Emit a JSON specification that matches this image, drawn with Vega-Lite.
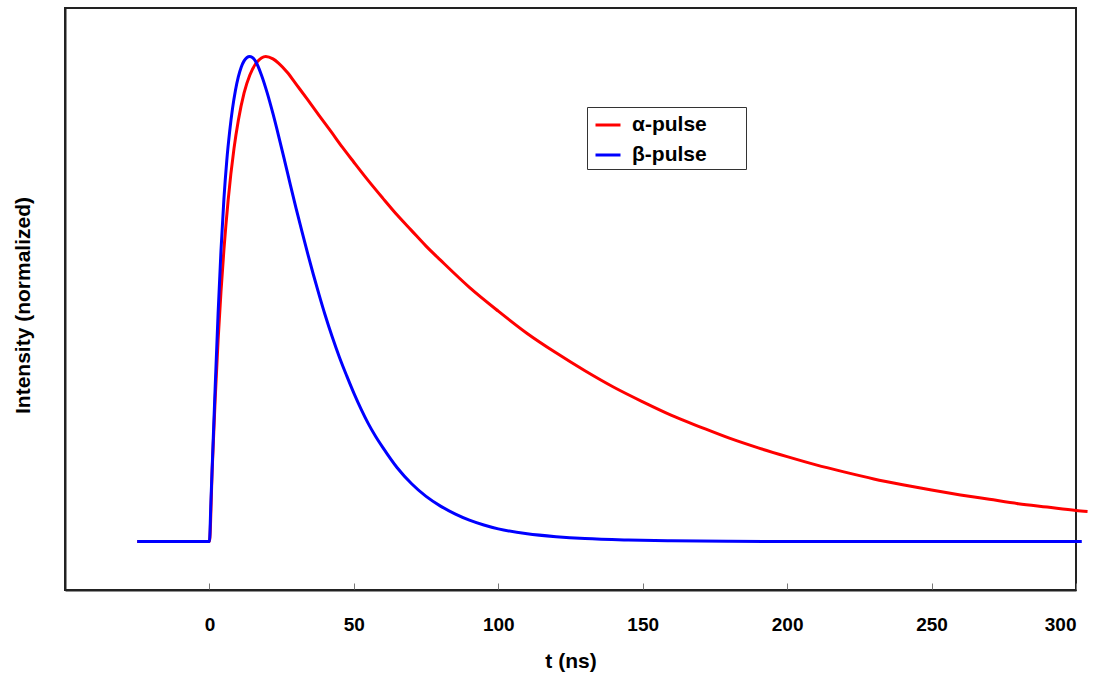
{
  "$schema": "https://vega.github.io/schema/vega-lite/v6.json",
  "width": 1011,
  "height": 582,
  "autosize": {"type": "none"},
  "padding": {"left": 65, "top": 8, "right": 20, "bottom": 83},
  "background": "white",
  "config": {
    "font": "Liberation Sans",
    "view": {"stroke": "#222222", "strokeWidth": 2},
    "axis": {"grid": false}
  },
  "data": {
    "values": [
      {"t": -25, "v": 0, "pulse": "α-pulse"},
      {"t": 0, "v": 0, "pulse": "α-pulse"},
      {"t": 1, "v": 0.155, "pulse": "α-pulse"},
      {"t": 2, "v": 0.295, "pulse": "α-pulse"},
      {"t": 3, "v": 0.415, "pulse": "α-pulse"},
      {"t": 4, "v": 0.515, "pulse": "α-pulse"},
      {"t": 5, "v": 0.6, "pulse": "α-pulse"},
      {"t": 6.5, "v": 0.705, "pulse": "α-pulse"},
      {"t": 8.5, "v": 0.81, "pulse": "α-pulse"},
      {"t": 10, "v": 0.868, "pulse": "α-pulse"},
      {"t": 12, "v": 0.925, "pulse": "α-pulse"},
      {"t": 14, "v": 0.962, "pulse": "α-pulse"},
      {"t": 16, "v": 0.985, "pulse": "α-pulse"},
      {"t": 18, "v": 0.997, "pulse": "α-pulse"},
      {"t": 19.5, "v": 1.0, "pulse": "α-pulse"},
      {"t": 22, "v": 0.995, "pulse": "α-pulse"},
      {"t": 24, "v": 0.986, "pulse": "α-pulse"},
      {"t": 27, "v": 0.967, "pulse": "α-pulse"},
      {"t": 30, "v": 0.943, "pulse": "α-pulse"},
      {"t": 34, "v": 0.911, "pulse": "α-pulse"},
      {"t": 38, "v": 0.878, "pulse": "α-pulse"},
      {"t": 42, "v": 0.846, "pulse": "α-pulse"},
      {"t": 46, "v": 0.813, "pulse": "α-pulse"},
      {"t": 50, "v": 0.782, "pulse": "α-pulse"},
      {"t": 55, "v": 0.744, "pulse": "α-pulse"},
      {"t": 60, "v": 0.708, "pulse": "α-pulse"},
      {"t": 65, "v": 0.673, "pulse": "α-pulse"},
      {"t": 70, "v": 0.641, "pulse": "α-pulse"},
      {"t": 75, "v": 0.609, "pulse": "α-pulse"},
      {"t": 80, "v": 0.58, "pulse": "α-pulse"},
      {"t": 90, "v": 0.524, "pulse": "α-pulse"},
      {"t": 100, "v": 0.475, "pulse": "α-pulse"},
      {"t": 110, "v": 0.429, "pulse": "α-pulse"},
      {"t": 120, "v": 0.389, "pulse": "α-pulse"},
      {"t": 130, "v": 0.352, "pulse": "α-pulse"},
      {"t": 140, "v": 0.318, "pulse": "α-pulse"},
      {"t": 150, "v": 0.288, "pulse": "α-pulse"},
      {"t": 160, "v": 0.26, "pulse": "α-pulse"},
      {"t": 170, "v": 0.236, "pulse": "α-pulse"},
      {"t": 180, "v": 0.213, "pulse": "α-pulse"},
      {"t": 190, "v": 0.193, "pulse": "α-pulse"},
      {"t": 200, "v": 0.175, "pulse": "α-pulse"},
      {"t": 210, "v": 0.158, "pulse": "α-pulse"},
      {"t": 220, "v": 0.143, "pulse": "α-pulse"},
      {"t": 230, "v": 0.129, "pulse": "α-pulse"},
      {"t": 240, "v": 0.117, "pulse": "α-pulse"},
      {"t": 250, "v": 0.106, "pulse": "α-pulse"},
      {"t": 260, "v": 0.096, "pulse": "α-pulse"},
      {"t": 270, "v": 0.087, "pulse": "α-pulse"},
      {"t": 280, "v": 0.078, "pulse": "α-pulse"},
      {"t": 290, "v": 0.071, "pulse": "α-pulse"},
      {"t": 300, "v": 0.064, "pulse": "α-pulse"},
      {"t": 304, "v": 0.062, "pulse": "α-pulse"},
      {"t": -25, "v": 0, "pulse": "β-pulse"},
      {"t": 0, "v": 0, "pulse": "β-pulse"},
      {"t": 0.5, "v": 0.08, "pulse": "β-pulse"},
      {"t": 1, "v": 0.16, "pulse": "β-pulse"},
      {"t": 2, "v": 0.32, "pulse": "β-pulse"},
      {"t": 3, "v": 0.47, "pulse": "β-pulse"},
      {"t": 4, "v": 0.6, "pulse": "β-pulse"},
      {"t": 5, "v": 0.705, "pulse": "β-pulse"},
      {"t": 6, "v": 0.785, "pulse": "β-pulse"},
      {"t": 7, "v": 0.845, "pulse": "β-pulse"},
      {"t": 8, "v": 0.893, "pulse": "β-pulse"},
      {"t": 9, "v": 0.93, "pulse": "β-pulse"},
      {"t": 10, "v": 0.958, "pulse": "β-pulse"},
      {"t": 11, "v": 0.978, "pulse": "β-pulse"},
      {"t": 12, "v": 0.991, "pulse": "β-pulse"},
      {"t": 13, "v": 0.998, "pulse": "β-pulse"},
      {"t": 13.9, "v": 1.0, "pulse": "β-pulse"},
      {"t": 16, "v": 0.99, "pulse": "β-pulse"},
      {"t": 18, "v": 0.962, "pulse": "β-pulse"},
      {"t": 20, "v": 0.925, "pulse": "β-pulse"},
      {"t": 22, "v": 0.882, "pulse": "β-pulse"},
      {"t": 24, "v": 0.835, "pulse": "β-pulse"},
      {"t": 26, "v": 0.786, "pulse": "β-pulse"},
      {"t": 28, "v": 0.736, "pulse": "β-pulse"},
      {"t": 30, "v": 0.687, "pulse": "β-pulse"},
      {"t": 32, "v": 0.64, "pulse": "β-pulse"},
      {"t": 34, "v": 0.594, "pulse": "β-pulse"},
      {"t": 36, "v": 0.55, "pulse": "β-pulse"},
      {"t": 38, "v": 0.508, "pulse": "β-pulse"},
      {"t": 40, "v": 0.468, "pulse": "β-pulse"},
      {"t": 42.5, "v": 0.422, "pulse": "β-pulse"},
      {"t": 45, "v": 0.38, "pulse": "β-pulse"},
      {"t": 47.5, "v": 0.342, "pulse": "β-pulse"},
      {"t": 50, "v": 0.306, "pulse": "β-pulse"},
      {"t": 52.5, "v": 0.273, "pulse": "β-pulse"},
      {"t": 55, "v": 0.243, "pulse": "β-pulse"},
      {"t": 57.5, "v": 0.217, "pulse": "β-pulse"},
      {"t": 60, "v": 0.194, "pulse": "β-pulse"},
      {"t": 65, "v": 0.152, "pulse": "β-pulse"},
      {"t": 70, "v": 0.119, "pulse": "β-pulse"},
      {"t": 75, "v": 0.093, "pulse": "β-pulse"},
      {"t": 80, "v": 0.073, "pulse": "β-pulse"},
      {"t": 85, "v": 0.057, "pulse": "β-pulse"},
      {"t": 90, "v": 0.044, "pulse": "β-pulse"},
      {"t": 95, "v": 0.034, "pulse": "β-pulse"},
      {"t": 100, "v": 0.026, "pulse": "β-pulse"},
      {"t": 110, "v": 0.016, "pulse": "β-pulse"},
      {"t": 120, "v": 0.01, "pulse": "β-pulse"},
      {"t": 130, "v": 0.006, "pulse": "β-pulse"},
      {"t": 145, "v": 0.003, "pulse": "β-pulse"},
      {"t": 160, "v": 0.0015, "pulse": "β-pulse"},
      {"t": 180, "v": 0.0005, "pulse": "β-pulse"},
      {"t": 200, "v": 0, "pulse": "β-pulse"},
      {"t": 250, "v": 0, "pulse": "β-pulse"},
      {"t": 302, "v": 0, "pulse": "β-pulse"}
    ]
  },
  "mark": {"type": "line", "strokeWidth": 3, "interpolate": "monotone"},
  "encoding": {
    "x": {
      "field": "t",
      "type": "quantitative",
      "scale": {"domain": [-50, 300], "nice": false, "zero": false},
      "axis": {
        "title": "t (ns)",
        "values": [0, 50, 100, 150, 200, 250, 300],
        "tickSize": -7,
        "tickColor": "#777777",
        "tickWidth": 1,
        "domainColor": "#222222",
        "domainWidth": 2,
        "labelFontSize": 19,
        "labelFontWeight": "bold",
        "labelColor": "black",
        "labelPadding": 32,
        "titleFontSize": 21,
        "titleFontWeight": "bold",
        "titleColor": "black",
        "titlePadding": 16
      }
    },
    "y": {
      "field": "v",
      "type": "quantitative",
      "scale": {"domain": [-0.1, 1.1], "nice": false, "zero": false},
      "axis": {
        "title": "Intensity (normalized)",
        "labels": false,
        "ticks": false,
        "domainColor": "#222222",
        "domainWidth": 2,
        "titleFontSize": 21,
        "titleFontWeight": "bold",
        "titleColor": "black",
        "titlePadding": 32,
        "titleY": 297
      }
    },
    "color": {
      "field": "pulse",
      "type": "nominal",
      "scale": {"domain": ["α-pulse", "β-pulse"], "range": ["#ff0000", "#0000ff"]},
      "legend": {
        "title": null,
        "orient": "none",
        "legendX": 522,
        "legendY": 99,
        "symbolType": "stroke",
        "symbolSize": 625,
        "symbolOffset": 3,
        "symbolStrokeWidth": 3,
        "labelFontSize": 21,
        "labelFontWeight": "bold",
        "labelColor": "black",
        "labelOffset": 10,
        "labelExpr": "datum.label + '\u00a0\u00a0\u00a0\u00a0\u00a0\u00a0\u200b'",
        "rowPadding": 6,
        "padding": 4,
        "strokeColor": "#333333",
        "fillColor": "white"
      }
    }
  }
}
